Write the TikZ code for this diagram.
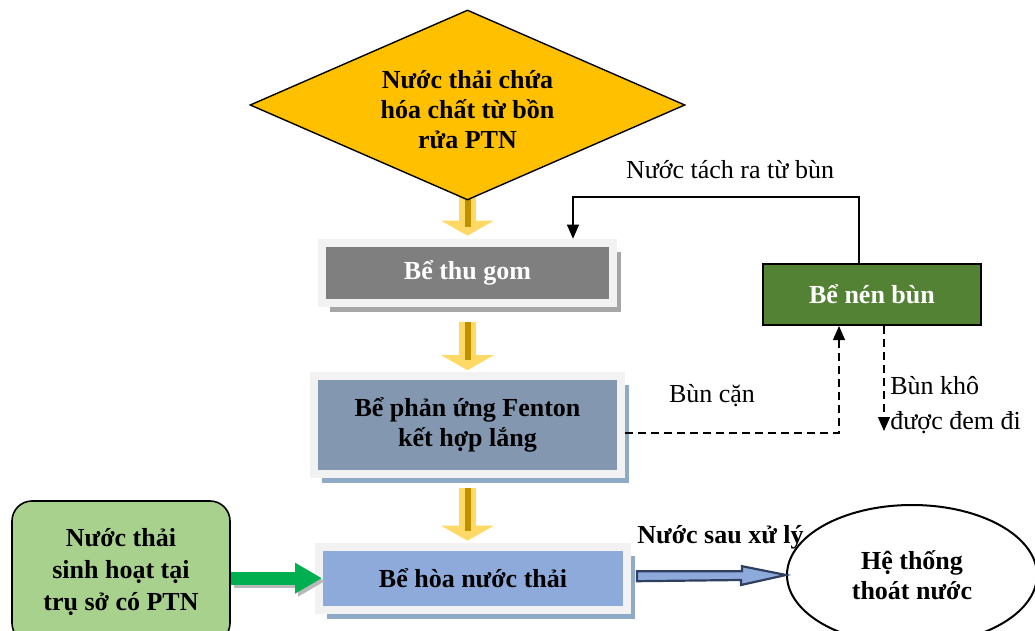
\documentclass[tikz,border=0pt]{standalone}
\usepackage{fontspec}
\setmainfont{Liberation Serif}
\usepackage{tikz}
\usetikzlibrary{shapes.geometric,arrows.meta,positioning,shadows,backgrounds,calc}
\definecolor{diamfill}{HTML}{FFC000}
\definecolor{framegray}{HTML}{F2F2F2}
\definecolor{collectfill}{HTML}{7F7F7F}
\definecolor{fentonfill}{HTML}{8497B0}
\definecolor{mixfill}{HTML}{8EAADB}
\definecolor{steelshadow}{HTML}{8FAAC5}
\definecolor{sludgefill}{HTML}{548235}
\definecolor{domesticfill}{HTML}{A9D18E}
\definecolor{greenarrow}{HTML}{00B050}
\definecolor{arrowyellow}{HTML}{FFD966}
\definecolor{arrowgold}{HTML}{BF9000}
\definecolor{navyline}{HTML}{2F3F60}

\begin{document}
\begin{tikzpicture}[
    x=0.5pt, y=-0.5pt,
    font=\fontsize{13}{15}\selectfont,
    bold/.style={font=\fontsize{13}{15}\selectfont\bfseries},
    tank/.style={bold, draw=framegray, line width=4pt, inner sep=0pt, align=center,
        drop shadow={shadow xshift=4pt, shadow yshift=-4.5pt, fill=#1, opacity=1}},
    source/.style={bold, diamond, draw, line width=0.7pt, fill=diamfill, align=center,
        inner sep=0pt, aspect=2.29, minimum width=217.5pt, minimum height=95pt},
    press/.style={bold, draw, line width=1pt, fill=sludgefill, text=white,
        minimum width=109pt, minimum height=30.5pt, inner sep=0pt},
    domestic/.style={bold, draw, line width=0.8pt, fill=domesticfill, rounded corners=10pt,
        align=center, minimum width=109pt, minimum height=71pt, inner sep=0pt},
    drain/.style={bold, ellipse, draw, line width=1pt, fill=white, align=center,
        minimum width=125pt, minimum height=70pt, inner sep=0pt},
    yarrow/.style={draw=arrowyellow, line width=8.5pt, -{Triangle[width=26pt,length=7.5pt]}},
    ystripe/.style={draw=arrowgold, line width=3pt},
    flow/.style={line width=0.6pt, -{Triangle[width=6pt,length=7pt]}},
    dashflow/.style={flow, dash pattern=on 4pt off 2.5pt},
    garrow/.style={draw=greenarrow, line width=6.5pt, -{Triangle[width=14.5pt,length=13.5pt]}},
    barrow/.style={fill=mixfill, draw=navyline, line width=1.1pt, line join=miter}
]
\useasboundingbox (0,0) rectangle (1035,631);

% main column
\node[source] (input) at (467.5,105) {\rule{0pt}{14pt}Nước thải chứa\\hóa chất từ bồn\\rửa PTN};
\node[tank=gray!70, fill=collectfill, text=white, minimum width=145.5pt, minimum height=30.25pt,
      below=19pt of input] (collect) {Bể thu gom};
\node[tank=steelshadow, fill=fentonfill, minimum width=153.5pt, minimum height=48.75pt,
      below=32.5pt of collect] (fenton) {Bể phản ứng Fenton\\kết hợp lắng};
\node[tank=steelshadow, fill=mixfill, minimum width=154pt, minimum height=31.5pt,
      below=32.5pt of fenton, xshift=2.75pt] (mix) {Bể hòa nước thải};

% side nodes
\node[press] (press) at (872,294.5) {Bể nén bùn};
\node[domestic] (domestic) at (121,572) {Nước thải\\[1pt]sinh hoạt tại\\[1pt]trụ sở có PTN};
\node[drain] (drain) at (912,575) {Hệ thống\\thoát nước};

% labels
\node (sepwater) at (730,170) {Nước tách ra từ bùn};
\node (sludge) at (712,396) {Bùn cặn};
\node[anchor=west, align=left, font=\fontsize{13}{17.5}\selectfont, inner sep=0pt] (dry) at (890,405)
    {Bùn khô\\được đem đi};
\node[bold, anchor=base west, inner sep=0pt] (treated) at (637,543) {Nước sau xử lý};

% yellow flow arrows
\begin{scope}[on background layer]
\draw[yarrow, shorten >=1.5pt] ([yshift=6pt]input.south) -- (collect.north);
\draw[ystripe, shorten >=6pt] ([yshift=6pt]input.south) -- (collect.north);
\end{scope}
\draw[yarrow, shorten <=7.5pt, shorten >=1pt] (collect.south) -- (fenton.north);
\draw[ystripe, shorten <=7.5pt, shorten >=6pt] (collect.south) -- (fenton.north);
\draw[yarrow, shorten <=5pt, shorten >=1pt] (fenton.south) -- (fenton.south |- mix.north);
\draw[ystripe, shorten <=5pt, shorten >=6pt] (fenton.south) -- (fenton.south |- mix.north);

% sludge lines
\draw[flow] ([xshift=-6.5pt]press.north) -- ++(0,-66) -| ([xshift=52.75pt]collect.north);
\draw[dashflow] ([yshift=-4pt]fenton.east) -| ([xshift=-16.5pt]press.south);
\draw[dashflow] ([xshift=6pt]press.south) -- ++(0,105) coordinate (dryend);

% domestic and outlet
\draw[garrow, draw=gray!55, shorten >=-3.5pt, transform canvas={xshift=1.5pt, yshift=-1.5pt}]
    (domestic.east |- mix.west) -- (mix.west);
\draw[garrow, shorten >=-3.5pt] (domestic.east |- mix.west) -- (mix.west);
\draw[barrow] ($(mix.east)+(6,-7)$) -- ++(105,0) -- ++(0,-5) -- (drain.west)
    -- ++(-45,10) -- ++(0,-5) -- ($(mix.east)+(6,3)$) -- cycle;
\end{tikzpicture}
\end{document}
